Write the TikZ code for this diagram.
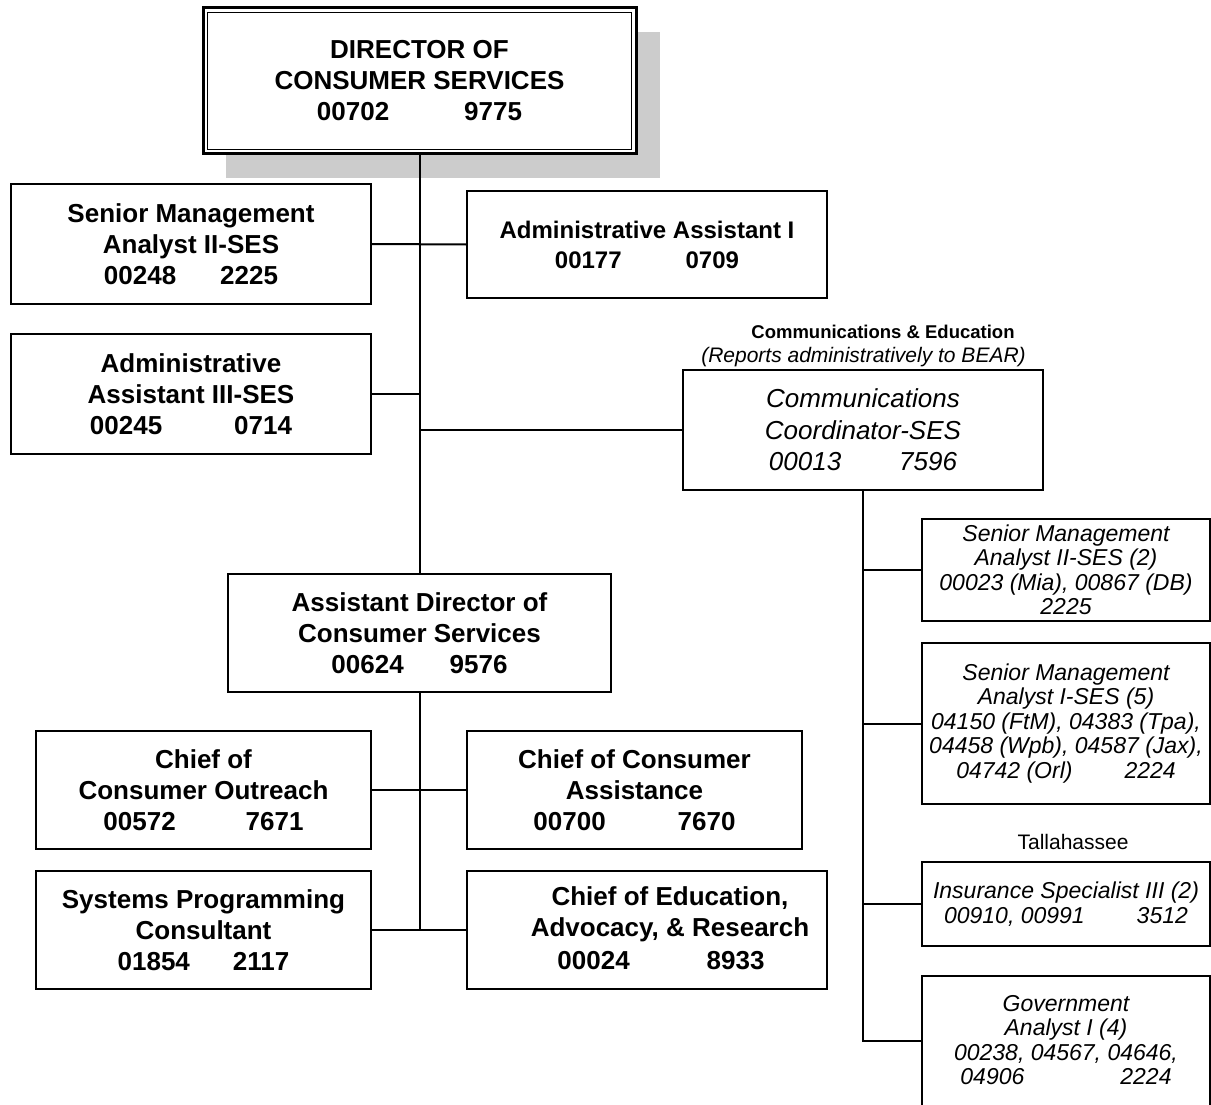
\documentclass[tikz,border=0pt]{standalone}
\usepackage{fontspec}
\setmainfont{Liberation Sans}
\definecolor{shadowgray}{HTML}{CCCCCC}
\begin{document}
\begin{tikzpicture}[x=1pt,y=-1pt,
  box/.style={draw, line width=2pt, rectangle, inner sep=0pt, align=center, fill=white},
  big/.style={font=\fontsize{26}{31}\selectfont\bfseries},
  mid/.style={font=\fontsize{24}{30}\selectfont\bfseries},
  comm/.style={font=\fontsize{26}{31.5}\selectfont\itshape},
  small/.style={font=\fontsize{23}{24.5}\selectfont\itshape},
  txt/.style={inner sep=0pt, align=center},
  link/.style={line width=2pt}]
\useasboundingbox (0,0) rectangle (1211,1105);

% drop shadow behind the director box
\fill[shadowgray] (226,32) rectangle (660,178);

% top level
\node[box, line width=3pt, minimum width=433pt, minimum height=146pt, big] (dir) at (419.5,81)
  {DIRECTOR OF\\CONSUMER SERVICES\\00702\hspace{75pt}9775};
\draw[line width=1.5pt] ([shift={(6,6)}]dir.north west) rectangle ([shift={(-6,-6)}]dir.south east);

% staff boxes
\node[box, minimum width=360pt, minimum height=120pt, big] (sma) at (191,244)
  {Senior Management\\Analyst II-SES\\00248\hspace{44pt}2225};
\node[box, minimum width=360pt, minimum height=107pt, mid] (aa1) at (647,244.5)
  {Administrative Assistant I\\00177\hspace{64pt}0709};
\node[box, minimum width=360pt, minimum height=120pt, big] (aa3) at (191,394)
  {Administrative\\Assistant III-SES\\00245\hspace{72pt}0714};

% communications
\node[txt, font=\fontsize{18.5}{20}\selectfont\bfseries] (commhead) at (883,332) {Communications \& Education};
\node[txt, font=\fontsize{21}{22}\selectfont\itshape] (commnote) at (863.5,357) {(Reports administratively to BEAR)};
\node[box, minimum width=360pt, minimum height=120pt, comm] (cc) at (863,430)
  {Communications\\Coordinator-SES\\00013\hspace{58pt}7596};

% assistant director and chiefs
\node[box, minimum width=383pt, minimum height=118pt, big] (ad) at (419.5,633)
  {Assistant Director of\\Consumer Services\\00624\hspace{46pt}9576};
\node[box, minimum width=335pt, minimum height=118pt, big] (out) at (203.5,790)
  {Chief of\\Consumer Outreach\\00572\hspace{70pt}7671};
\node[box, minimum width=335pt, minimum height=118pt, big] (asst) at (634.5,790)
  {Chief of Consumer\\Assistance\\00700\hspace{72pt}7670};
\node[box, minimum width=335pt, minimum height=118pt, big] (sys) at (203.5,930)
  {Systems Programming\\Consultant\\01854\hspace{43pt}2117};
\node[box, minimum width=360pt, minimum height=118pt] (edu) at (647,930) {};
\node[txt, big] (edutext) at (670,914.5)
  {Chief of Education,\\Advocacy, \& Research};
\node[txt, big] (edunum) at (661,961) {00024\hspace{77pt}8933};

% field staff under the coordinator
\node[box, minimum width=288pt, minimum height=102pt, small] (r1) at (1066,570)
  {Senior Management\\Analyst II-SES (2)\\00023 (Mia), 00867 (DB)\\2225};
\node[box, minimum width=288pt, minimum height=161pt, small] (r2) at (1066,723.5)
  {Senior Management\\Analyst I-SES (5)\\04150 (FtM), 04383 (Tpa),\\04458 (Wpb), 04587 (Jax),\\04742 (Orl)\hspace{52pt}2224};
\node[txt, font=\fontsize{21}{22}\selectfont] (tlh) at (1073,842) {Tallahassee};
\node[box, minimum width=288pt, minimum height=84pt, small] (r3) at (1066,904)
  {Insurance Specialist III (2)\\00910, 00991\hspace{52pt}3512};
\node[box, minimum width=288pt, minimum height=144pt] (r4) at (1066,1048) {};
\node[txt, small] (r4text) at (1066,1040)
  {Government\\Analyst I (4)\\00238, 04567, 04646,\\04906\hspace{96pt}2224};

% trunk and branches
\coordinate (taa3) at (dir.south |- aa3.east);
\coordinate (tcc)  at (dir.south |- cc.west);
\coordinate (tsys) at (ad.south |- sys.east);
\coordinate (rbot) at (cc.south |- 0,1041);
\draw[link] (dir.south) -- (ad.north);
\draw[link] (sma.east) -- (aa1.west);
\draw[link] (aa3.east) -- (taa3);
\draw[link] (tcc) -- (cc.west);
\draw[link] (ad.south) -- (tsys);
\draw[link] (out.east) -- (asst.west);
\draw[link] (sys.east) -- (edu.west);

% right-hand comb
\draw[link] (cc.south) -- (rbot) -- (rbot -| r4.west);
\draw[link] (cc.south |- r1.west) -- (r1.west);
\draw[link] (cc.south |- r2.west) -- (r2.west);
\draw[link] (cc.south |- r3.west) -- (r3.west);
\end{tikzpicture}
\end{document}
